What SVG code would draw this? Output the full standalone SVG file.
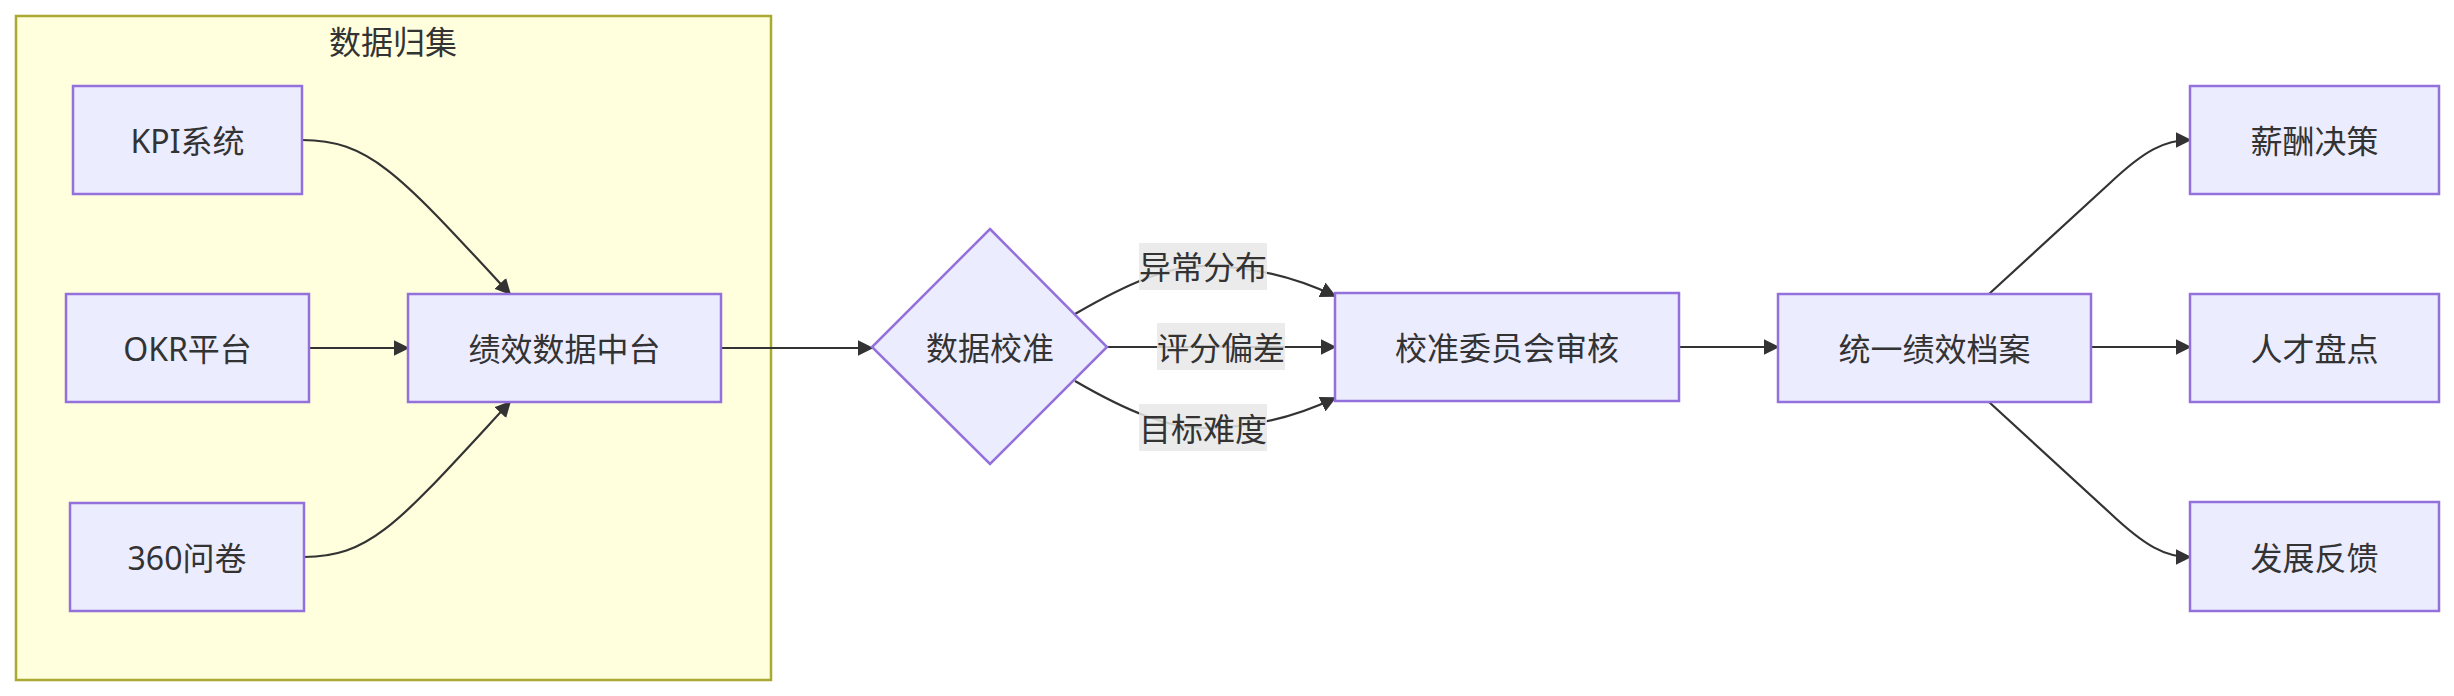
<svg xmlns="http://www.w3.org/2000/svg" width="2454" height="696" viewBox="0 0 2454 696">
<style>
.node rect,.node polygon{fill:#ECECFF;stroke:#9370DB;stroke-width:2.5}
.cluster rect{fill:#ffffde;stroke:#aaaa33;stroke-width:2.5}
text{font-family:"Noto Sans","Noto Sans CJK SC",sans-serif;font-size:32px;fill:#333;text-anchor:middle;dominant-baseline:central}
.edge{fill:none;stroke:#333;stroke-width:2.2}
.lbl{fill:#e8e8e8;opacity:0.85}
</style>
<defs>
<marker id="arr" viewBox="0 0 10 10" refX="9" refY="5" markerWidth="16" markerHeight="16" markerUnits="userSpaceOnUse" orient="auto">
<path d="M0,0 L10,5 L0,10 z" fill="#333"/>
</marker>
</defs>
<g id="cluster-collect" class="cluster">
<rect x="16" y="16" width="755" height="664"/>
<text x="393" y="41">数据归集</text>
</g>
<g id="edges">
<path class="edge" marker-end="url(#arr)" d="M302,140 C370,140 400,175 510,294"/>
<path class="edge" marker-end="url(#arr)" d="M309,348 L408,348"/>
<path class="edge" marker-end="url(#arr)" d="M304,557 C372,557 400,521 510,402"/>
<path class="edge" marker-end="url(#arr)" d="M721,348 L872,348"/>
<path class="edge" marker-end="url(#arr)" d="M1075,314 C1130,282 1170,266 1203,266 C1240,266 1285,272 1335,296"/>
<path class="edge" marker-end="url(#arr)" d="M1107,347 L1335,347"/>
<path class="edge" marker-end="url(#arr)" d="M1075,381 C1130,413 1170,428 1203,428 C1240,428 1285,422 1335,398"/>
<path class="edge" marker-end="url(#arr)" d="M1679,347 L1778,347"/>
<path class="edge" marker-end="url(#arr)" d="M2091,347 L2190,347"/>
<path class="edge" marker-end="url(#arr)" d="M1989,294 L2110,183 C2145,150 2165,140 2190,140"/>
<path class="edge" marker-end="url(#arr)" d="M1989,402 L2110,513 C2145,546 2165,557 2190,557"/>
</g>
<g id="edge-labels">
<g id="label-yichang"><rect class="lbl" x="1139" y="243" width="128" height="47"/><text x="1203" y="266">异常分布</text></g>
<g id="label-pingfen"><rect class="lbl" x="1157" y="323" width="128" height="47"/><text x="1221" y="347">评分偏差</text></g>
<g id="label-mubiao"><rect class="lbl" x="1139" y="404" width="128" height="47"/><text x="1203" y="428">目标难度</text></g>
</g>
<g id="node-kpi" class="node"><rect x="73" y="86" width="229" height="108"/><text x="187.5" y="140">KPI系统</text></g>
<g id="node-okr" class="node"><rect x="66" y="294" width="243" height="108"/><text x="187.5" y="348">OKR平台</text></g>
<g id="node-360" class="node"><rect x="70" y="503" width="234" height="108"/><text x="187" y="557">360问卷</text></g>
<g id="node-hub" class="node"><rect x="408" y="294" width="313" height="108"/><text x="564.5" y="348">绩效数据中台</text></g>
<g id="node-calib" class="node"><polygon points="990,229 1107,347 990,464 872,347"/><text x="990" y="347">数据校准</text></g>
<g id="node-committee" class="node"><rect x="1335" y="293" width="344" height="108"/><text x="1507" y="347">校准委员会审核</text></g>
<g id="node-archive" class="node"><rect x="1778" y="294" width="313" height="108"/><text x="1934.5" y="348">统一绩效档案</text></g>
<g id="node-pay" class="node"><rect x="2190" y="86" width="249" height="108"/><text x="2314.5" y="140">薪酬决策</text></g>
<g id="node-talent" class="node"><rect x="2190" y="294" width="249" height="108"/><text x="2314.5" y="348">人才盘点</text></g>
<g id="node-dev" class="node"><rect x="2190" y="502" width="249" height="109"/><text x="2314.5" y="557">发展反馈</text></g>
</svg>
